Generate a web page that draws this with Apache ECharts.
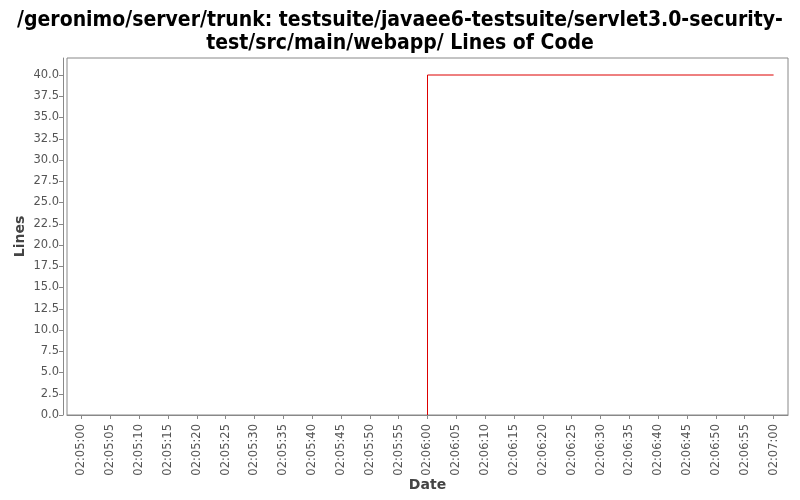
<!DOCTYPE html>
<html>
<head>
<meta charset="utf-8">
<script src="https://cdn.jsdelivr.net/npm/echarts@6/dist/echarts.min.js"></script>
<style>html,body{margin:0;padding:0;background:#fff;}#c{width:800px;height:500px;}</style>
</head>
<body>
<div id="c"></div>
<script>
var titleText = '/geronimo/server/trunk: testsuite/javaee6-testsuite/servlet3.0-security-\ntest/src/main/webapp/ Lines of Code';
var pointTimes = ['02:06:00', '02:07:00'];
var pointValues = [0, 40];
var xTickLabels = ['02:05:00','02:05:05','02:05:10','02:05:15','02:05:20','02:05:25','02:05:30','02:05:35','02:05:40','02:05:45','02:05:50','02:05:55','02:06:00','02:06:05','02:06:10','02:06:15','02:06:20','02:06:25','02:06:30','02:06:35','02:06:40','02:06:45','02:06:50','02:06:55','02:07:00'];
var yTickValues = [0,2.5,5,7.5,10,12.5,15,17.5,20,22.5,25,27.5,30,32.5,35,37.5,40];
var xMinTime = '02:04:57.5';
var xMaxTime = '02:07:02.5';
var yMax = 42;

function toMs(s) {
  var p = s.split(':');
  return Date.UTC(2010, 0, 1, +p[0], +p[1], 0) + Math.round(parseFloat(p[2]) * 1000);
}
function pad(n) { return (n < 10 ? '0' : '') + n; }
function fmt(ms) {
  var d = new Date(ms);
  return pad(d.getUTCHours()) + ':' + pad(d.getUTCMinutes()) + ':' + pad(d.getUTCSeconds());
}
var xTickMs = xTickLabels.map(toMs);
var data = pointTimes.map(function (t, i) { return [toMs(t), pointValues[i]]; });

var chart = echarts.init(document.getElementById('c'), null, { renderer: 'canvas' });
chart.setOption({
  animation: false,
  backgroundColor: '#ffffff',
  title: {
    text: titleText,
    left: 'center',
    top: 4,
    textStyle: { fontFamily: 'DejaVu Sans Condensed', fontWeight: 'bold', fontSize: 21, lineHeight: 23, color: '#000' }
  },
  grid: { left: 67, right: 12, top: 58, bottom: 85, show: true, borderColor: '#888', borderWidth: 1, backgroundColor: '#fff', containLabel: false, outerBoundsMode: 'none' },
  xAxis: {
    type: 'value',
    min: toMs(xMinTime),
    max: toMs(xMaxTime),
    offset: 4,
    name: 'Date',
    nameLocation: 'middle',
    nameGap: 59,
    nameMoveOverlap: false,
    nameTextStyle: { fontFamily: 'DejaVu Sans', fontSize: 14, fontWeight: 'bold', color: '#444' },
    axisLine: { show: true, lineStyle: { color: '#888', width: 1 } },
    axisTick: { show: true, length: 4, lineStyle: { color: '#888' }, customValues: xTickMs },
    axisLabel: { rotate: 90, margin: 5, fontFamily: 'DejaVu Sans', fontSize: 11.5, color: '#555', customValues: xTickMs, formatter: function (v) { return fmt(v); } },
    splitLine: { show: false }
  },
  yAxis: {
    type: 'value',
    min: 0,
    max: yMax,
    offset: 4,
    name: 'Lines',
    nameLocation: 'middle',
    nameGap: 36,
    nameMoveOverlap: false,
    nameTextStyle: { fontFamily: 'DejaVu Sans', fontSize: 14, fontWeight: 'bold', color: '#444' },
    axisLine: { show: true, lineStyle: { color: '#888', width: 1 } },
    axisTick: { show: true, length: 4, lineStyle: { color: '#888' }, customValues: yTickValues },
    axisLabel: { margin: 4, fontFamily: 'DejaVu Sans', fontSize: 11.5, color: '#555', customValues: yTickValues, formatter: function (v) { return v.toFixed(1); } },
    splitLine: { show: false }
  },
  series: [{
    type: 'line',
    step: 'start',
    data: data,
    showSymbol: false,
    symbol: 'none',
    lineStyle: { color: '#dd0000', width: 1 },
    itemStyle: { color: '#dd0000' }
  }]
});
</script>
</body>
</html>
